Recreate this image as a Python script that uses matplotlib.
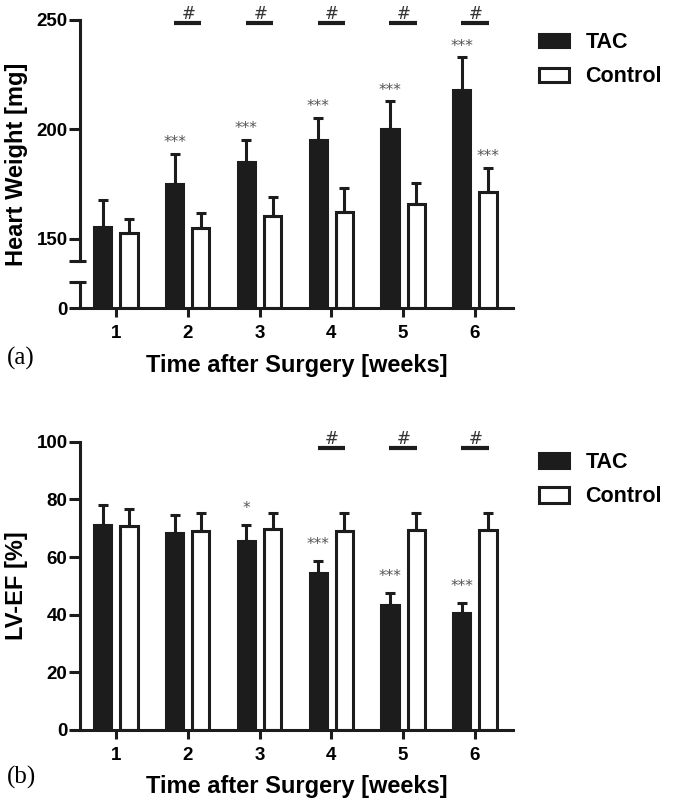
import numpy as np
import matplotlib
matplotlib.use("Agg")
import matplotlib.pyplot as plt

plt.rcParams['font.family'] = ['Liberation Sans', 'DejaVu Sans']
plt.rcParams['font.weight'] = 'bold'
plt.rcParams['axes.labelweight'] = 'bold'

weeks = [1, 2, 3, 4, 5, 6]
week_labels = ['1', '2', '3', '4', '5', '6']

# (a) heart weight [mg]
hw_tac = [155.5, 174.8, 185.3, 195.0, 200.3, 217.9]
hw_tac_sd = [12.3, 14.1, 10.0, 10.4, 12.5, 15.0]
hw_ctrl = [152.6, 155.0, 160.4, 162.1, 165.9, 171.4]
hw_ctrl_sd = [6.6, 6.8, 8.6, 11.1, 9.7, 11.0]
hw_tac_sig = ['', '***', '***', '***', '***', '***']
hw_ctrl_sig = ['', '', '', '', '', '***']
hw_hash = [2, 3, 4, 5, 6]

# (b) LV ejection fraction [%]
ef_tac = [71.1, 68.2, 65.5, 54.3, 43.3, 40.7]
ef_tac_sd = [6.9, 6.3, 5.6, 4.4, 4.1, 3.4]
ef_ctrl = [70.7, 69.1, 69.6, 69.1, 69.3, 69.3]
ef_ctrl_sd = [5.8, 6.0, 5.7, 6.0, 5.8, 5.8]
ef_tac_sig = ['', '', '*', '***', '***', '***']
ef_ctrl_sig = ['', '', '', '', '', '']
ef_hash = [4, 5, 6]

# broken y axis for panel (a): 0..12.2 shown, 12.2..140 squeezed
BRK_LO, BRK_HI = 12.2, 140
_v = [-1000, 0, BRK_LO, BRK_HI, 1000]
_u = [-1000, 0, BRK_LO, 21.8, 881.8]


def fwd(v):
    return np.interp(v, _v, _u)


def inv(u):
    return np.interp(u, _u, _v)


INK = '#1c1c1c'
LW = 2.2
OFF = 0.183
WIDTH = 0.24
W, H = 677, 802


def draw_panel(ax, tac, tac_sd, ctrl, ctrl_sd, tac_sig, ctrl_sig,
               hash_weeks, hash_y, star_off):
    x = np.array(weeks, dtype=float)
    b1 = ax.bar(x - OFF, tac, WIDTH, color=INK, edgecolor=INK,
                linewidth=LW, label='TAC', zorder=2)
    b2 = ax.bar(x + OFF, ctrl, WIDTH, color='white', edgecolor=INK,
                linewidth=LW, label='Control', zorder=2)
    for xs, m, sd in [(x - OFF, tac, tac_sd), (x + OFF, ctrl, ctrl_sd)]:
        ax.errorbar(xs, m, yerr=[np.zeros(len(m)), sd], fmt='none',
                    ecolor=INK, elinewidth=LW, capsize=3.5, capthick=LW,
                    zorder=3)

    for xs, m, sd, sig in [(x - OFF, tac, tac_sd, tac_sig),
                           (x + OFF, ctrl, ctrl_sd, ctrl_sig)]:
        for xi, mi, si, s in zip(xs, m, sd, sig):
            if s:
                ax.annotate(s, (xi, mi + si), xytext=(0, star_off),
                            textcoords='offset points', ha='center',
                            va='center', fontsize=11, color='#555555',
                            family='DejaVu Sans', weight='normal')

    for w in hash_weeks:
        ax.plot([w - 0.19, w + 0.19], [hash_y, hash_y], color=INK, lw=3,
                solid_capstyle='butt', clip_on=False)
        ax.text(w + 0.01, hash_y, '#', ha='center', va='bottom',
                fontsize=12, color='#333333', family='DejaVu Sans',
                weight='normal')

    ax.set_xlim(0.5, 6.53)
    ax.set_xticks(weeks)
    ax.set_xticklabels(week_labels)
    for side in ['top', 'right']:
        ax.spines[side].set_visible(False)
    for side in ['left', 'bottom']:
        ax.spines[side].set_linewidth(LW)
        ax.spines[side].set_color(INK)
    ax.tick_params(axis='x', length=6.5, width=LW, pad=5.5, labelsize=13.5,
                   color=INK)
    ax.tick_params(axis='y', length=8, width=LW, pad=1, labelsize=13.5,
                   color=INK)
    ax.set_xlabel('Time after Surgery [weeks]', fontsize=17, labelpad=8.5)
    return b1, b2


fig = plt.figure(figsize=(W / 100, H / 100), dpi=100)
ax1 = fig.add_axes([80 / W, 1 - 308.3 / H, 433 / W, 288.3 / H])
ax2 = fig.add_axes([80 / W, 1 - 730 / H, 433 / W, 288.3 / H])

# panel (a)
ax1.set_yscale('function', functions=(fwd, inv))
h1 = draw_panel(ax1, hw_tac, hw_tac_sd, hw_ctrl, hw_ctrl_sd,
                hw_tac_sig, hw_ctrl_sig, hw_hash, 248.5, 8)
ax1.set_ylim(0, 250)
ax1.set_yticks([0, BRK_LO, BRK_HI, 150, 200, 250])
ax1.set_yticklabels(['0', '', '', '150', '200', '250'])
ax1.spines['left'].set_bounds(BRK_HI, 250)
ytr = ax1.get_yaxis_transform()
ax1.plot([0, 0], [0, BRK_LO], color=INK, lw=LW, transform=ytr,
         clip_on=False, solid_capstyle='butt')
ax1.plot([0, 0], [BRK_LO, BRK_HI], ls='none', marker='_', ms=9,
         mew=LW, color=INK, transform=ytr, clip_on=False)
ax1.set_ylabel('Heart Weight [mg]', fontsize=17)
ax1.yaxis.set_label_coords(-0.12, 0.5)

# panel (b)
h2 = draw_panel(ax2, ef_tac, ef_tac_sd, ef_ctrl, ef_ctrl_sd,
                ef_tac_sig, ef_ctrl_sig, ef_hash, 97.8, 12)
ax2.set_ylim(0, 100)
ax2.set_yticks([0, 20, 40, 60, 80, 100])
ax2.set_ylabel('LV-EF [%]', fontsize=17)
ax2.yaxis.set_label_coords(-0.12, 0.5)

leg_kw = dict(loc='upper left', bbox_transform=fig.transFigure,
              frameon=False, borderpad=0, borderaxespad=0,
              handlelength=1.4, handletextpad=0.75, labelspacing=0.62,
              prop=dict(family='Liberation Sans', weight='bold', size=15.5))
ax1.legend(handles=list(h1), bbox_to_anchor=(539 / W, 1 - 32 / H),
           handleheight=0.6, **leg_kw)
ax2.legend(handles=list(h2), bbox_to_anchor=(539 / W, 1 - 452 / H),
           handleheight=0.74, **leg_kw)

fig.text(7 / W, 1 - 358 / H, '(a)', family='Liberation Serif',
         weight='normal', fontsize=18, va='center', ha='left')
fig.text(7 / W, 1 - 777 / H, '(b)', family='Liberation Serif',
         weight='normal', fontsize=18, va='center', ha='left')

fig.savefig('out.png', dpi=100)
